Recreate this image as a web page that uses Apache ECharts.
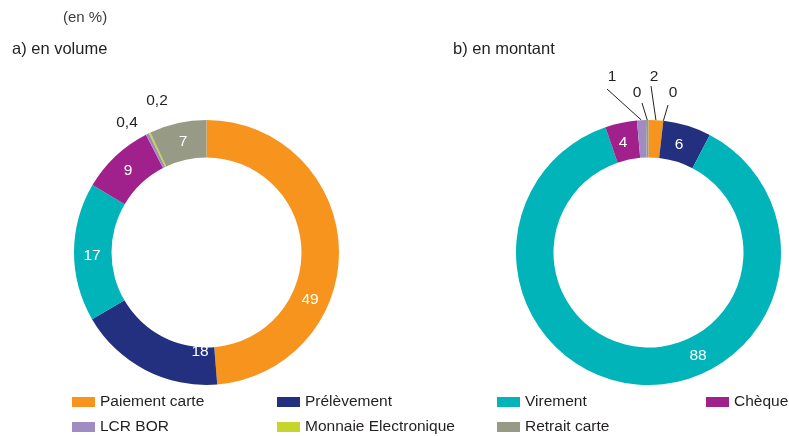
<!DOCTYPE html>
<html><head><meta charset="utf-8">
<script src="https://cdn.jsdelivr.net/npm/echarts@6/dist/echarts.min.js"></script>
<style>html,body{margin:0;padding:0;background:#fff}#c{width:789px;height:436px}</style>
</head><body><div id="c"></div>
<script>
const categories = ['Paiement carte','Prélèvement','Virement','Chèque','LCR BOR','Monnaie Electronique','Retrait carte'];
const volume  = [49, 18, 17, 9, 0.4, 0.2, 7];
const montant = [1.8, 5.9, 87.6, 3.9, 1.1, 0, 0.3];
const orderB  = [0, 5, 1, 2, 3, 4, 6];
const colors  = ['#F7941D','#22307F','#00B4B9','#A0218B','#A08BC3','#C4D52E','#979B86'];
const FONT = '"Liberation Sans", Arial, sans-serif';
const INK = '#231F20';

// label placement (style only): [x, y] centres, and leader-line end points
const posA = {
  'Paiement carte':[310,300], 'Prélèvement':[200,352], 'Virement':[92,256], 'Chèque':[128,171],
  'LCR BOR':[127,123], 'Monnaie Electronique':[157,101], 'Retrait carte':[183,142]
};
const posB = {
  'Paiement carte':{x:654, y:77, lx:651, ly:86},
  'Prélèvement':{x:679, y:145}, 'Virement':{x:698, y:356}, 'Chèque':{x:623, y:143},
  'LCR BOR':{x:612, y:77, lx:607, ly:89},
  'Retrait carte':{x:637, y:93, lx:642, ly:103},
  'Monnaie Electronique':{x:673, y:93, lx:668, ly:105}
};
const outsideA = ['LCR BOR','Monnaie Electronique'];
const outsideB = ['LCR BOR','Retrait carte','Paiement carte','Monnaie Electronique'];

function fmtA(v){ return v < 1 ? String(v).replace('.', ',') : String(Math.round(v)); }
function fmtB(v){ return String(Math.round(v)); }

const dataA = categories.map((n,i) => {
  const out = outsideA.includes(n);
  return { name:n, value:volume[i], itemStyle:{color:colors[i]},
    label:{position: out ? 'outside' : 'inside', color: out ? INK : '#fff'},
    labelLine:{show:false} };
});
const dataB = orderB.map(i => {
  const n = categories[i];
  const out = outsideB.includes(n);
  return { name:n, value:montant[i], itemStyle:{color:colors[i]},
    label:{position: out ? 'outside' : 'inside', color: out ? INK : '#fff'},
    labelLine:{show:out, lineStyle:{color:INK, width:1}} };
});

const legendPos = {
  'Paiement carte':[72,393], 'LCR BOR':[72,418],
  'Prélèvement':[277,393], 'Monnaie Electronique':[277,418],
  'Virement':[497,393], 'Retrait carte':[497,418],
  'Chèque':[706,393]
};

const chart = echarts.init(document.getElementById('c'), null, {renderer:'canvas'});
chart.setOption({
  animation:false,
  color: colors,
  graphic:[
    {type:'text', x:63, y:18, style:{text:'(en %)', font:'15px ' + FONT, fill:'#3C3C3C', textVerticalAlign:'middle'}},
    {type:'text', x:12, y:49, style:{text:'a) en volume', font:'16.5px ' + FONT, fill:INK, textVerticalAlign:'middle'}},
    {type:'text', x:453, y:49, style:{text:'b) en montant', font:'16.5px ' + FONT, fill:INK, textVerticalAlign:'middle'}}
  ],
  legend: categories.map(n => ({
    data:[n], left:legendPos[n][0], top:legendPos[n][1], padding:0,
    orient:'horizontal', itemWidth:23, itemHeight:10, icon:'rect', selectedMode:false,
    textStyle:{fontFamily:FONT, fontSize:15.5, lineHeight:18, color:INK}
  })),
  series:[
    {
      type:'pie', center:[206.5,252.5], radius:[95,132.5], startAngle:90, clockwise:true,
      data:dataA, emphasis:{disabled:true}, silent:true,
      label:{fontFamily:FONT, fontSize:15.5, formatter:p => fmtA(p.value)},
      labelLayout: p => {
        const pos = posA[dataA[p.dataIndex].name];
        return {x:pos[0], y:pos[1], align:'center', verticalAlign:'middle'};
      }
    },
    {
      type:'pie', center:[648.5,252.5], radius:[95,132.5], startAngle:90, clockwise:true,
      data:dataB, emphasis:{disabled:true}, silent:true,
      label:{fontFamily:FONT, fontSize:15.5, formatter:p => fmtB(p.value)},
      labelLine:{length:10, length2:10},
      labelLayout: p => {
        const pos = posB[dataB[p.dataIndex].name];
        const r = {x:pos.x, y:pos.y, align:'center', verticalAlign:'middle'};
        if (pos.lx != null) {
          const s = p.labelLinePoints ? p.labelLinePoints[0] : [pos.lx, pos.ly];
          r.labelLinePoints = [s, s, [pos.lx, pos.ly]];
        }
        return r;
      }
    }
  ]
});
</script></body></html>
